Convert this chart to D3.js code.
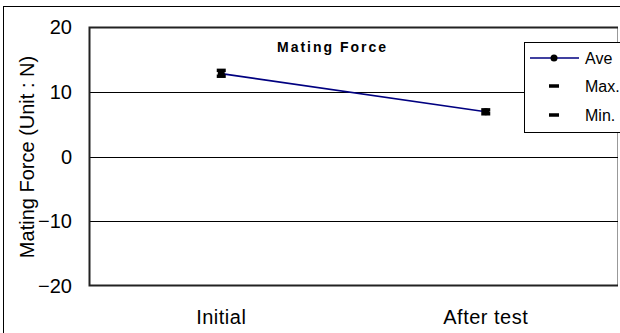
<!DOCTYPE html>
<html>
<head>
<meta charset="utf-8">
<script src="https://cdn.jsdelivr.net/npm/d3@7"></script>
<style>
  body{margin:0;background:#fff;}
  svg{display:block;font-family:"Liberation Sans","DejaVu Sans",sans-serif;}
</style>
</head>
<body>
<div id="chart"></div>
<script>
/* ---------- DATA ---------- */
const categories = ["Initial","After test"];
const aveValues  = [12.8, 6.9];
const maxValues  = [13.3, 7.2];
const minValues  = [12.4, 6.6];
const yTicks     = [-20,-10,0,10,20];
const legendKeys = ["Ave","Max.","Min."];

/* ---------- LAYOUT ---------- */
const W=620, H=333,
      M={top:27,right:2,bottom:47,left:89},
      IW=W-M.left-M.right, IH=H-M.top-M.bottom;

const svg=d3.select("#chart").append("svg").attr("width",W).attr("height",H);

// outer frame
svg.append("rect").attr("x",3.5).attr("y",6.5).attr("width",W).attr("height",H)
  .attr("fill","none").attr("stroke","#000").attr("stroke-width",1);

const g=svg.append("g").attr("transform",`translate(${M.left},${M.top})`);

const x=d3.scaleBand().domain(categories).range([0,IW]);
const y=d3.scaleLinear().domain([-20,20]).range([IH,0]);
const cx=d=>x(d)+x.bandwidth()/2;

// right border (light)
g.append("line").attr("x1",IW-0.5).attr("x2",IW-0.5).attr("y1",0).attr("y2",IH)
  .attr("stroke","#999").attr("stroke-width",1);

// grid lines
g.selectAll("line.grid").data(yTicks.filter(t=>t>-20&&t<20)).enter()
  .append("line").attr("class","grid")
  .attr("x1",0).attr("x2",IW).attr("y1",d=>Math.round(y(d))+0.5).attr("y2",d=>Math.round(y(d))+0.5)
  .attr("stroke","#000").attr("stroke-width",1);

// frame top / left / bottom
g.append("path")
  .attr("d",`M${IW},0.5H0.5V${IH-0.5}H${IW}`)
  .attr("fill","none").attr("stroke","#222").attr("stroke-width",2);

// y ticks
g.selectAll("text.ytick").data(yTicks).enter().append("text")
  .attr("class","ytick").attr("x",-17).attr("y",d=>y(d)).attr("dy","0.36em")
  .attr("text-anchor","end").style("font-size","20px").attr("fill","#000")
  .text(d=>d<0?"\u2212"+Math.abs(d):d);

// x labels
g.selectAll("text.xlab").data(categories).enter().append("text")
  .attr("class","xlab").attr("x",cx).attr("y",IH+38)
  .attr("text-anchor","middle").style("font-size","20px").style("letter-spacing","0.5px")
  .text(d=>d);

// y label
svg.append("text").attr("transform",`translate(34,157) rotate(-90)`)
  .attr("text-anchor","middle").style("font-size","20px")
  .text("Mating Force (Unit : N)");

// title
g.append("text").attr("x",188).attr("y",25)
  .style("font-size","14px").style("font-weight","bold").style("letter-spacing","2px")
  .text("Mating Force");

// ave line
const line=d3.line().x((d,i)=>cx(categories[i])).y(d=>y(d));
g.append("path").attr("d",line(aveValues)).attr("fill","none")
  .attr("stroke","#000080").attr("stroke-width",1.6);

// max / min dashes
const dash=(vals)=>g.selectAll(null).data(vals).enter().append("rect")
  .attr("x",(d,i)=>cx(categories[i])-4.5).attr("y",d=>y(d)-1.75)
  .attr("width",9).attr("height",3.5).attr("fill","#000");
dash(maxValues); dash(minValues);

// ave dots
g.selectAll("circle.ave").data(aveValues).enter().append("circle")
  .attr("cx",(d,i)=>cx(categories[i])).attr("cy",d=>y(d)).attr("r",3.5).attr("fill","#000");

// legend
const lg=svg.append("g").attr("transform","translate(524,42)");
lg.append("rect").attr("x",0.5).attr("y",0.5).attr("width",100).attr("height",90)
  .attr("fill","#fff").attr("stroke","#000").attr("stroke-width",1);
const ly=[16,44,73];
legendKeys.forEach((k,i)=>{
  if(i===0){
    lg.append("line").attr("x1",6).attr("x2",55).attr("y1",ly[i]).attr("y2",ly[i])
      .attr("stroke","#000080").attr("stroke-width",1.6);
    lg.append("circle").attr("cx",30).attr("cy",ly[i]).attr("r",3.5).attr("fill","#000");
  }else{
    lg.append("rect").attr("x",25).attr("y",ly[i]-1.75).attr("width",10).attr("height",3.5).attr("fill","#000");
  }
  lg.append("text").attr("x",61).attr("y",ly[i]).attr("dy","0.36em")
    .style("font-size","16px").text(k);
});
</script>
</body>
</html>
